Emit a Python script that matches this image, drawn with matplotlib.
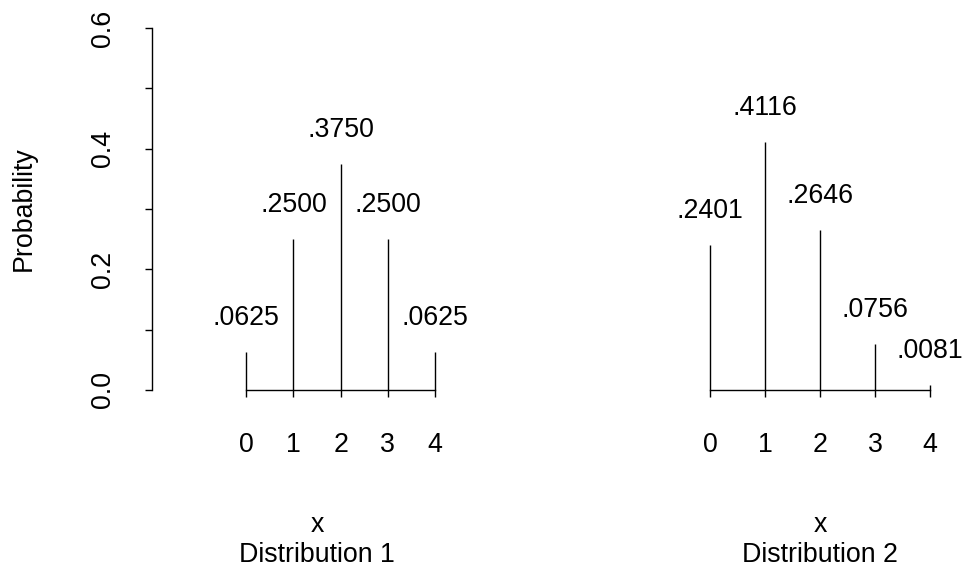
import matplotlib
matplotlib.use('Agg')
import matplotlib.pyplot as plt

plt.rcParams['font.family'] = ['Liberation Sans', 'DejaVu Sans']

# outcomes and probabilities
x = [0, 1, 2, 3, 4]
dist1 = [0.0625, 0.2500, 0.3750, 0.2500, 0.0625]
dist2 = [0.2401, 0.4116, 0.2646, 0.0756, 0.0081]
titles = ['Distribution 1', 'Distribution 2']
yticks = [0.0, 0.1, 0.2, 0.3, 0.4, 0.5, 0.6]
ylabels = ['0.0', '', '0.2', '', '0.4', '', '0.6']

fs = 19.3
fig = plt.figure(figsize=(9.63, 5.7), dpi=100)
ax1 = fig.add_axes([152 / 963, 180 / 570, 330 / 963, 362 / 570])
ax2 = fig.add_axes([682.5 / 963, 180 / 570, 275 / 963, 362 / 570])


def spikes(ax, probs, title):
    ax.vlines(x, 0, probs, color='black', lw=1.0, clip_on=False)
    for xi, p in zip(x, probs):
        lab = ('%.4f' % p).lstrip('0')
        ax.text(xi, p + 0.045, lab, ha='center', va='baseline',
                fontsize=fs, clip_on=False)
    ax.set_ylim(0, 0.6)
    for s in ['top', 'right', 'left']:
        ax.spines[s].set_visible(False)
    ax.spines['bottom'].set_bounds(0, 4)
    ax.spines['bottom'].set_linewidth(1.0)
    ax.set_xticks(x)
    ax.set_xticklabels([str(v) for v in x])
    ax.tick_params(axis='x', length=5, width=1.0, pad=25, labelsize=fs)
    ax.set_xlabel('x\n' + title, fontsize=fs, labelpad=39, linespacing=1.2)
    ax.patch.set_visible(False)


spikes(ax1, dist1, titles[0])
ax1.set_xlim(-2, 5)
spikes(ax2, dist2, titles[1])
ax2.set_xlim(-0.5, 4.5)

# only the left plot gets a y axis
ax1.spines['left'].set_visible(True)
ax1.spines['left'].set_bounds(0, 0.6)
ax1.spines['left'].set_linewidth(1.0)
ax1.set_yticks(yticks)
ax1.set_yticklabels(ylabels, rotation=90, va='center')
ax1.tick_params(axis='y', length=5, width=1.0, pad=21, labelsize=fs)
ax1.set_ylabel('Probability', fontsize=fs, labelpad=38)
ax2.set_yticks([])

fig.savefig('out.png', dpi=100)
